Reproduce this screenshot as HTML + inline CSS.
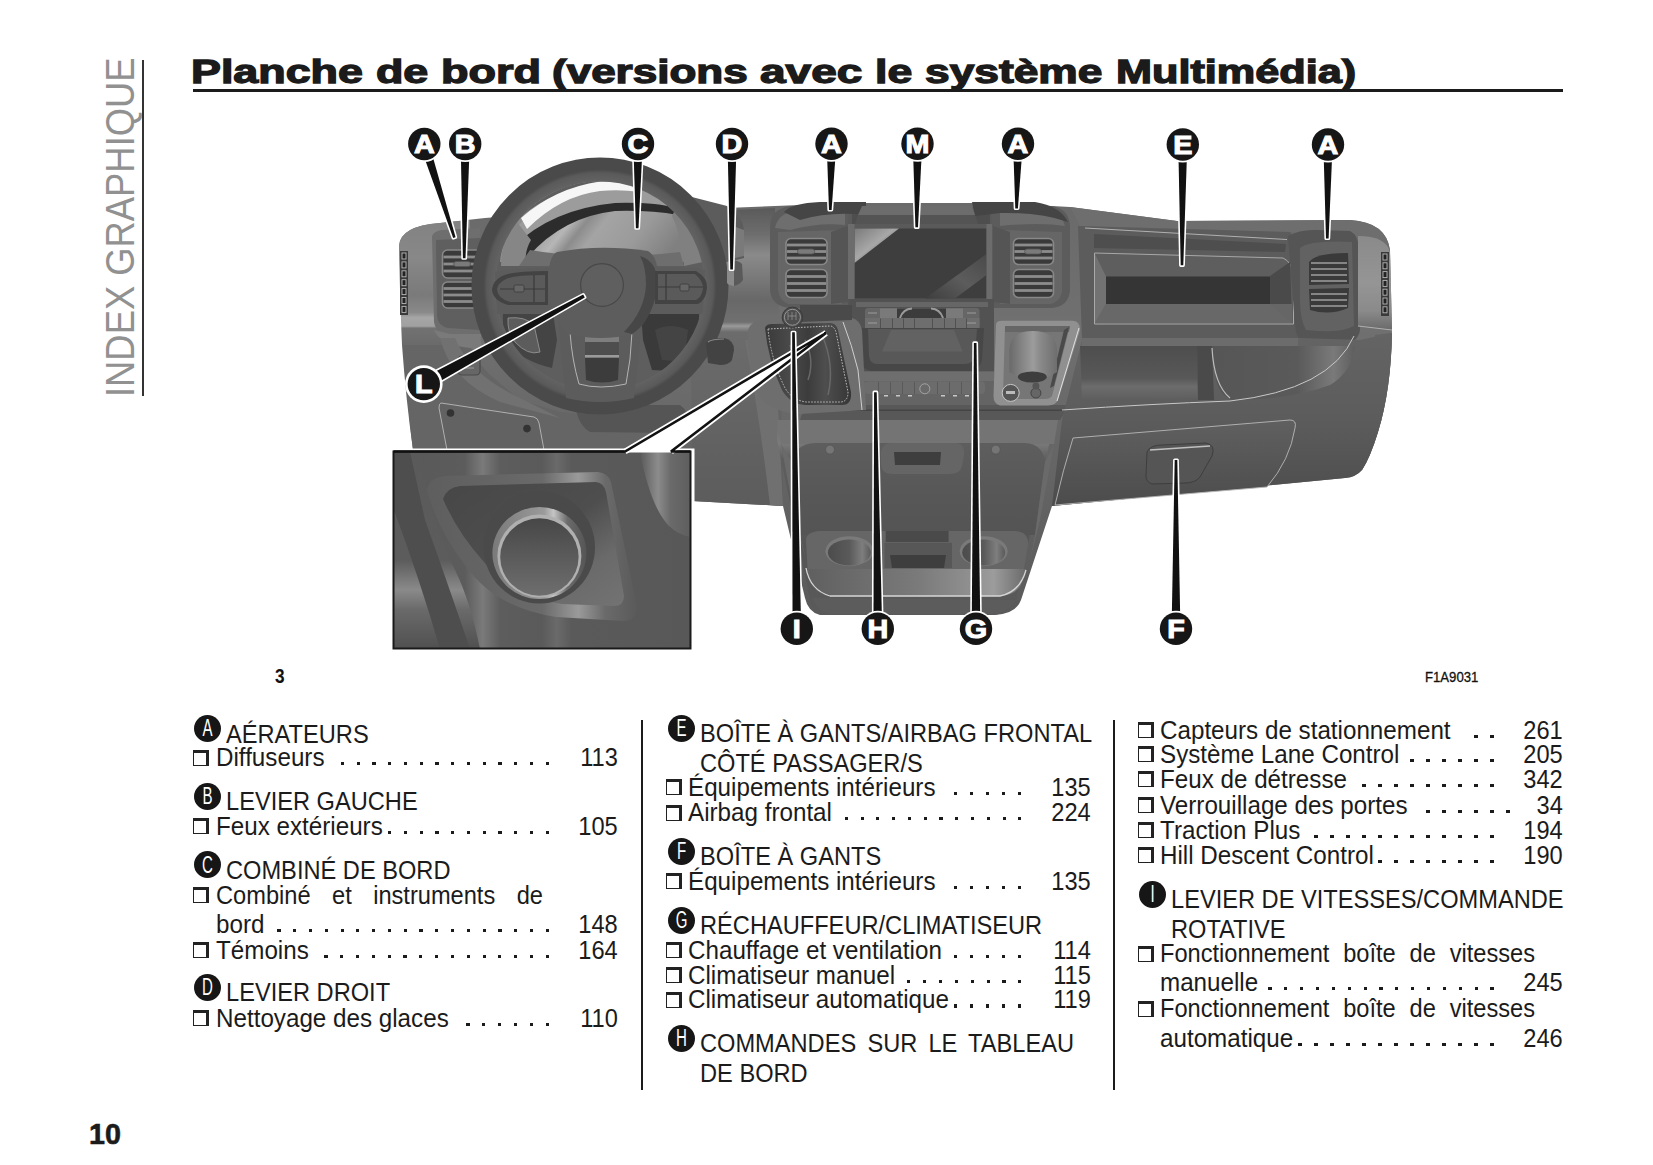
<!DOCTYPE html>
<html><head><meta charset="utf-8"><style>
html,body{margin:0;padding:0;background:#fff;}
body{width:1653px;height:1165px;position:relative;overflow:hidden;font-family:"Liberation Sans",sans-serif;color:#1b1b1b;}
.t{position:absolute;font-size:25px;line-height:25px;white-space:pre;transform:scaleX(0.945);transform-origin:0 0;}
.t.n{transform-origin:100% 0;}
.t.i{transform:scaleX(0.968);}
.t.j{text-align:justify;text-align-last:justify;white-space:normal;}
.d{position:absolute;width:3.2px;height:3.2px;background:#1b1b1b;display:block;}
.bx{position:absolute;width:12px;height:12px;border-left:1px solid #222;border-bottom:1px solid #222;border-top:3px solid #222;border-right:3px solid #222;display:block;}
.c{position:absolute;width:27px;height:27px;border-radius:50%;background:#161616;}
.c span{position:absolute;left:0;top:0.3px;width:27px;text-align:center;color:#fff;font-size:23.5px;line-height:27px;transform:scaleX(0.64);}
.title{position:absolute;left:191.3px;top:0;font-weight:bold;font-size:32.4px;white-space:pre;transform:scaleX(1.345);transform-origin:0 0;-webkit-text-stroke:1.3px #1b1b1b;}
.side{position:absolute;left:0;top:0;font-size:40.7px;line-height:40.7px;color:#919191;white-space:pre;transform-origin:0 0;}
</style></head><body>
<div class="side" style="transform:translate(99.6px,397px) rotate(-90deg) scaleX(0.894);">INDEX GRAPHIQUE</div>
<div style="position:absolute;left:142.4px;top:60px;width:1.2px;height:336px;background:#333"></div>
<div class="title" style="left:191.20px;top:55.6px;line-height:32.4px;transform:scaleX(1.3835)">Planche</div>
<div class="title" style="left:375.65px;top:55.6px;line-height:32.4px;transform:scaleX(1.3835)">de</div>
<div class="title" style="left:440.61px;top:55.6px;line-height:32.4px;transform:scaleX(1.3884)">bord</div>
<div class="title" style="left:552.25px;top:55.6px;line-height:32.4px;transform:scaleX(1.3590)">(versions</div>
<div class="title" style="left:760.23px;top:55.6px;line-height:32.4px;transform:scaleX(1.4201)">avec</div>
<div class="title" style="left:875.24px;top:55.6px;line-height:32.4px;transform:scaleX(1.3770)">le</div>
<div class="title" style="left:925.47px;top:55.6px;line-height:32.4px;transform:scaleX(1.3676)">système</div>
<div class="title" style="left:1115.50px;top:55.6px;line-height:32.4px;transform:scaleX(1.3343)">Multimédia)</div>
<div style="position:absolute;left:193px;top:89px;width:1370px;height:3px;background:#1b1b1b"></div>
<svg style="position:absolute;left:0;top:0" width="1653" height="1165" viewBox="0 0 1653 1165"><defs>
<linearGradient id="gDash" x1="0" y1="0" x2="0" y2="1">
 <stop offset="0" stop-color="#6a6a6a"/><stop offset="0.3" stop-color="#707070"/>
 <stop offset="0.6" stop-color="#666"/><stop offset="1" stop-color="#5a5a5a"/>
</linearGradient>
<linearGradient id="gLeftCap" x1="0" y1="0" x2="0" y2="1">
 <stop offset="0" stop-color="#828282"/><stop offset="0.3" stop-color="#888"/><stop offset="0.6" stop-color="#7a7a7a"/>
 <stop offset="0.74" stop-color="#8a8a8a"/><stop offset="0.78" stop-color="#a6a6a6"/><stop offset="0.85" stop-color="#a0a0a0"/>
 <stop offset="0.865" stop-color="#727272"/><stop offset="1" stop-color="#6a6a6a"/>
</linearGradient>
<linearGradient id="gRightCap" x1="0" y1="0" x2="0" y2="1">
 <stop offset="0" stop-color="#8a8a8a"/><stop offset="0.5" stop-color="#959595"/>
 <stop offset="0.8" stop-color="#8a8a8a"/><stop offset="1" stop-color="#6a6a6a"/>
</linearGradient>
<radialGradient id="gRing" cx="0.5" cy="0.5" r="0.5">
 <stop offset="0.80" stop-color="#6a6a6a"/><stop offset="0.9" stop-color="#626262"/><stop offset="0.97" stop-color="#5a5a5a"/><stop offset="1" stop-color="#4a4a4a"/>
</radialGradient>
<linearGradient id="gCluster" x1="0" y1="0" x2="1" y2="0.3">
 <stop offset="0" stop-color="#808080"/><stop offset="0.3" stop-color="#929292"/><stop offset="0.45" stop-color="#b6b6b6"/>
 <stop offset="0.52" stop-color="#8c8c8c"/><stop offset="0.6" stop-color="#a4a4a4"/><stop offset="0.8" stop-color="#9a9a9a"/><stop offset="1" stop-color="#808080"/>
</linearGradient>
<linearGradient id="gScreen" x1="0" y1="0" x2="1" y2="0.9">
 <stop offset="0" stop-color="#999"/><stop offset="0.08" stop-color="#6a6a6a"/><stop offset="0.16" stop-color="#404040"/>
 <stop offset="0.72" stop-color="#3c3c3c"/><stop offset="0.8" stop-color="#5a5a5a"/><stop offset="0.9" stop-color="#484848"/><stop offset="1" stop-color="#404040"/>
</linearGradient>
<linearGradient id="gGlove" x1="0" y1="0" x2="0" y2="1">
 <stop offset="0" stop-color="#606060"/><stop offset="1" stop-color="#4c4c4c"/>
</linearGradient>
<linearGradient id="gLowerR" x1="0" y1="0" x2="0" y2="1">
 <stop offset="0" stop-color="#646464"/><stop offset="0.5" stop-color="#5c5c5c"/><stop offset="1" stop-color="#4c4c4c"/>
</linearGradient>
<linearGradient id="gConsole" x1="0" y1="0" x2="0" y2="1">
 <stop offset="0" stop-color="#5a5a5a"/><stop offset="0.45" stop-color="#666"/><stop offset="1" stop-color="#5c5c5c"/>
</linearGradient>
<linearGradient id="gTray" x1="0" y1="0" x2="1" y2="0">
 <stop offset="0" stop-color="#6a6a6a"/><stop offset="0.5" stop-color="#7a7a7a"/><stop offset="0.8" stop-color="#8c8c8c"/><stop offset="1" stop-color="#6a6a6a"/>
</linearGradient>
<linearGradient id="gInset" x1="0" y1="0" x2="1" y2="0">
 <stop offset="0" stop-color="#585858"/><stop offset="0.24" stop-color="#5c5c5c"/><stop offset="0.3" stop-color="#7a7a7a"/>
 <stop offset="0.36" stop-color="#5d5d5d"/><stop offset="0.5" stop-color="#5a5a5a"/><stop offset="0.55" stop-color="#6a6a6a"/><stop offset="0.6" stop-color="#5a5a5a"/><stop offset="1" stop-color="#585858"/>
</linearGradient>
<linearGradient id="gKnob" x1="0" y1="0" x2="0" y2="1">
 <stop offset="0" stop-color="#474747"/><stop offset="1" stop-color="#6e6e6e"/>
</linearGradient>
<linearGradient id="gBezelTop" x1="0" y1="0" x2="1" y2="0">
 <stop offset="0" stop-color="#5e5e5e"/><stop offset="0.5" stop-color="#9a9a9a"/><stop offset="0.62" stop-color="#b8b8b8"/><stop offset="0.75" stop-color="#6a6a6a"/><stop offset="1" stop-color="#5a5a5a"/>
</linearGradient>
<linearGradient id="gRightArea" x1="0" y1="0" x2="0" y2="1">
 <stop offset="0" stop-color="#5a5a5a"/><stop offset="0.09" stop-color="#6e6e6e"/><stop offset="0.158" stop-color="#8a8a8a"/>
 <stop offset="0.309" stop-color="#686868"/><stop offset="0.383" stop-color="#707070"/><stop offset="0.396" stop-color="#9a9a9a"/>
 <stop offset="0.416" stop-color="#6c6c6c"/><stop offset="0.7" stop-color="#646464"/><stop offset="1" stop-color="#5c5c5c"/>
</linearGradient>
</defs>
<path d="M399,246 Q400,226 440,223 L485,218 L560,212 L700,209 L775,206 L850,203 L1000,203 L1070,207
 L1177,221 L1350,220 Q1386,222 1390,250 L1392,330 Q1391,390 1378,432 Q1370,458 1362,470 Q1356,477 1345,478 L1052,506
 L1021,600 Q1016,614 995,615 L820,615 Q808,612 805,598 L783,506 L692,501 L692,450 L413,450 Q404,380 399,246 Z" fill="url(#gDash)"/>
<path d="M399,246 Q400,226 440,223 L470,220 L470,345 L402,345 Q400,300 399,246 Z" fill="url(#gLeftCap)"/>
<path d="M432,236 Q434,231 442,230 L480,228 L482,338 L450,336 Q436,334 434,322 Z" fill="#6e6e6e"/>
<path d="M436,240 L480,238 L481,330 L448,328 Q438,326 437,316 Z" fill="#5f5f5f"/>
<rect x="442.5" y="250" width="40" height="28" rx="5" fill="#3a3a3a" stroke="#888" stroke-width="1.6"/>
<rect x="443.5" y="255.6" width="38" height="2.8" fill="#8c8c8c"/>
<rect x="443.5" y="262.6" width="38" height="2.8" fill="#8c8c8c"/>
<rect x="443.5" y="269.6" width="38" height="2.8" fill="#8c8c8c"/>
<rect x="453.7" y="261.5" width="16.8" height="5" rx="2.5" fill="#7a7a7a" stroke="#555" stroke-width="0.8"/>
<rect x="442.5" y="282" width="40" height="26" rx="5" fill="#3a3a3a" stroke="#888" stroke-width="1.6"/>
<rect x="443.5" y="287.1" width="38" height="2.8" fill="#8c8c8c"/>
<rect x="443.5" y="293.6" width="38" height="2.8" fill="#8c8c8c"/>
<rect x="443.5" y="300.1" width="38" height="2.8" fill="#8c8c8c"/>
<rect x="400" y="251" width="8" height="64" fill="#3a3a3a"/>
<rect x="402" y="253.0" width="4" height="6" fill="#222" stroke="#b8b8b8" stroke-width="0.9"/>
<rect x="402" y="261.9" width="4" height="6" fill="#222" stroke="#b8b8b8" stroke-width="0.9"/>
<rect x="402" y="270.8" width="4" height="6" fill="#222" stroke="#b8b8b8" stroke-width="0.9"/>
<rect x="402" y="279.7" width="4" height="6" fill="#222" stroke="#b8b8b8" stroke-width="0.9"/>
<rect x="402" y="288.6" width="4" height="6" fill="#222" stroke="#b8b8b8" stroke-width="0.9"/>
<rect x="402" y="297.5" width="4" height="6" fill="#222" stroke="#b8b8b8" stroke-width="0.9"/>
<rect x="402" y="306.4" width="4" height="6" fill="#222" stroke="#b8b8b8" stroke-width="0.9"/>
<path d="M402,345 L470,345 Q475,360 490,375 L520,400 L560,412 L640,420 L692,425 L692,450 L413,450 Q406,400 402,345 Z" fill="#656565"/>
<path d="M434,330 Q440,345 470,348 L485,352 Q478,340 482,334 L450,334 Z" fill="#7a7a7a"/>
<path d="M441,403 L534,417 Q538,418 539,423 L544,450 L447,450 L439,408 Q439,403 441,403 Z" fill="#626262" stroke="#b0b0b0" stroke-width="1"/>
<circle cx="450.5" cy="413" r="3.8" fill="#333"/><circle cx="527" cy="428.6" r="3.8" fill="#333"/>
<path d="M440,338 Q450,380 500,402 L560,418 L520,398 Q470,375 455,338 Z" fill="#717171"/>
<rect x="458" y="356" width="22" height="19" rx="4" fill="#666" stroke="#4a4a4a" stroke-width="1.2"/>
<path d="M464,362 L474,362 M464,368 L474,368" stroke="#aaa" stroke-width="0.8"/>
<path d="M690,212 L775,208 L780,330 L783,506 L692,501 L692,425 L690,330 Z" fill="url(#gRightArea)"/>
<path d="M745,340 Q760,338 775,345 L783,506 L770,505 Q760,420 745,340 Z" fill="#707070"/>
<path d="M688,196 L727,206 Q742,215 744,230 L744,258 L728,262 L705,262 Q702,225 688,205 Z" fill="#5c5c5c"/>
<path d="M733,226 L744,230 L744,256 L735,258 Z" fill="#7a7a7a"/>
<path d="M575,405 L680,405 Q690,412 688,425 L675,433 L590,432 Q578,425 575,405 Z" fill="#555"/>
<circle cx="600" cy="286" r="105" fill="#5e5e5e"/>
<path d="M500,262 Q505,200 600,184 Q690,186 705,262 Z" fill="url(#gCluster)"/>
<path d="M505,240 Q540,196 600,183 Q650,180 690,212 L676,208 Q650,202 615,203 Q550,210 513,247 Z" fill="#9c9c9c"/>
<path d="M521,218 Q555,188 600,181.5 Q625,180 640,186 L640,192 Q620,189 600,191 Q560,196 527,229 Z" fill="#f6f6f6"/>
<path d="M513,247 Q552,209 615,203 Q655,202 676,208 L678,215 Q650,210 615,211 Q562,217 527,258 Z" fill="#2c2c2c"/>
<path d="M501,266 Q501,240 517,222 L531,240 Q524,252 526,266 Z" fill="#868686"/>
<path d="M676,208 Q698,222 703,262 L684,266 Q682,236 672,216 Z" fill="#808080"/>
<path d="M530,250 Q600,262 680,252 L684,266 L519,266 Z" fill="#6e6e6e"/>
<path d="M503,313 Q528,309 553,313 L557,340 L552,368 Q525,362 508,345 Q502,330 503,313 Z" fill="#444"/>
<path d="M641,312 Q672,308 699,314 Q700,345 690,372 L652,370 L643,340 Z" fill="#3a3a3a"/>
<path d="M508,318 Q525,316 534,325 L540,352 Q528,356 515,342 Q507,332 508,318 Z" fill="#5c5c5c" stroke="#9a9a9a" stroke-width="0.8"/>
<path d="M655,330 Q670,322 688,330 L684,362 L662,360 Z" fill="#444"/>
<circle cx="600" cy="286" r="116.5" fill="none" stroke="url(#gRing)" stroke-width="24"/>
<path d="M495,272 Q520,268 556,268 L560,314 Q525,314 497,314 Z" fill="#5c5c5c"/>
<path d="M646,268 Q690,266 705,270 L703,314 Q680,314 644,314 Z" fill="#5c5c5c"/>
<path d="M558,322 L642,322 L634,398 Q600,406 566,398 Z" fill="#5c5c5c"/>
<path d="M570,332 Q572,360 579,384 Q600,390 626,384 Q631,360 632,332" stroke="#b4b4b4" stroke-width="1" fill="none"/>
<path d="M585,336 L619,336 L619,342 L585,342 Z" fill="#7e7e7e"/>
<path d="M585,342 L619,342 L619,356 L585,356 Z" fill="#4e4e4e"/>
<rect x="585" y="355" width="34" height="2.5" fill="#9a9a9a"/>
<path d="M585,358 L619,358 L618,380 Q602,385 586,380 Z" fill="#3c3c3c"/>
<path d="M557,252 Q600,244 648,251 Q660,258 657,285 Q652,318 634,334 Q600,342 568,334 Q550,318 548,285 Q548,256 557,252 Z" fill="#5d5d5d"/>
<path d="M640,256 Q660,262 657,290 Q651,322 632,334 L624,332 Q645,310 646,285 Q646,266 640,256 Z" fill="#474747"/>
<circle cx="602" cy="285" r="21.4" fill="#5f5f5f" stroke="#484848" stroke-width="1.2"/>
<path d="M502,276 Q512,271 548,271 L548,305 L508,305 Q492,300 492,289 Q493,281 502,276 Z" fill="#434343"/>
<path d="M506,279 Q514,275 545,275 L545,302 L510,302 Q497,298 497,289 Q498,283 506,279 Z" fill="#5a5a5a"/>
<path d="M500,289 L545,289 M534,275 L534,302" stroke="#3a3a3a" stroke-width="1.2"/>
<rect x="514" y="285" width="10" height="7" rx="1.5" fill="#666" stroke="#3a3a3a" stroke-width="0.8"/>
<path d="M655,271 L696,271 Q708,278 707,288 Q706,300 698,304 L655,304 Z" fill="#434343"/>
<path d="M658,274 L695,274 Q703,281 703,288 Q702,297 696,300 L658,300 Z" fill="#5a5a5a"/>
<path d="M658,287 L703,287 M666,274 L666,300" stroke="#3a3a3a" stroke-width="1.2"/>
<rect x="680" y="284" width="9" height="7" rx="1.5" fill="#666" stroke="#3a3a3a" stroke-width="0.8"/>
<path d="M727,262 Q736,258 742,264 L743,280 Q737,288 729,285 Z" fill="#5a5a5a"/>
<path d="M727,262 Q731,260 734,261 L734,286 Q729,286 727,283 Z" fill="#8a8a8a"/>
<path d="M706,343 Q710,338 724,338 Q734,340 734,350 L732,360 Q729,365 720,365 L708,363 Z" fill="#434343"/>
<path d="M708,342 Q712,339 724,339" stroke="#888" stroke-width="1.2" fill="none"/>
<path d="M770,226 Q771,209 790,206 L852,205 L852,308 L790,308 Q771,306 770,290 Z" fill="#5c5c5c"/>
<path d="M775,228 Q778,214 792,212 L845,212 L845,225 Q820,222 790,230 Z" fill="#6e6e6e"/>
<path d="M778,232 L842,230 L842,304 L788,304 Q779,300 778,290 Z" fill="#666"/>
<rect x="786" y="238.5" width="41" height="26" rx="5" fill="#3a3a3a" stroke="#888" stroke-width="1.6"/>
<rect x="787" y="243.6" width="39" height="2.8" fill="#8c8c8c"/>
<rect x="787" y="250.1" width="39" height="2.8" fill="#8c8c8c"/>
<rect x="787" y="256.6" width="39" height="2.8" fill="#8c8c8c"/>
<rect x="797.5" y="249.0" width="17.2" height="5" rx="2.5" fill="#7a7a7a" stroke="#555" stroke-width="0.8"/>
<rect x="786" y="269.5" width="41" height="28" rx="5" fill="#3a3a3a" stroke="#888" stroke-width="1.6"/>
<rect x="787" y="275.1" width="39" height="2.8" fill="#8c8c8c"/>
<rect x="787" y="282.1" width="39" height="2.8" fill="#8c8c8c"/>
<rect x="787" y="289.1" width="39" height="2.8" fill="#8c8c8c"/>
<path d="M848,218 Q850,207 862,207 L983,207 Q994,209 994,220 L994,304 L848,304 Z" fill="#5a5a5a"/>
<rect x="852" y="214" width="138" height="10" fill="#4e4e4e"/>
<rect x="854.5" y="228.5" width="132" height="70" fill="#3e3e3e"/>
<linearGradient id="gHL" x1="0" y1="0" x2="1" y2="1"><stop offset="0" stop-color="#7a7a7a"/><stop offset="0.45" stop-color="#a8a8a8"/><stop offset="0.75" stop-color="#6a6a6a"/><stop offset="1" stop-color="#3e3e3e"/></linearGradient>
<path d="M854.5,228.5 L899,228.5 L854.5,263 Z" fill="url(#gHL)"/>
<linearGradient id="gHL2" x1="0" y1="1" x2="1" y2="0"><stop offset="0" stop-color="#3e3e3e"/><stop offset="0.5" stop-color="#5c5c5c"/><stop offset="1" stop-color="#4a4a4a"/></linearGradient>
<path d="M925,298.5 L986.5,254 L986.5,275 L955,298.5 Z" fill="url(#gHL2)"/>
<path d="M831,232 L848,226 L848,302 L831,304 Z" fill="#555"/>
<rect x="848" y="224" width="6.5" height="78" fill="#6c6c6c"/>
<rect x="986.5" y="224" width="6.5" height="78" fill="#6c6c6c"/>
<path d="M992,205 L1052,206 Q1069,209 1070,226 L1070,290 Q1069,306 1052,308 L992,308 Z" fill="#5c5c5c"/>
<path d="M1000,212 L1050,212 Q1062,214 1065,226 Q1040,222 1000,226 Z" fill="#6e6e6e"/>
<path d="M1000,230 L1062,232 L1062,292 Q1060,302 1050,304 L1000,304 Z" fill="#666"/>
<path d="M993,226 L1010,232 L1010,304 L993,302 Z" fill="#555"/>
<rect x="1013.5" y="238.5" width="40" height="26" rx="5" fill="#3a3a3a" stroke="#888" stroke-width="1.6"/>
<rect x="1014.5" y="243.6" width="38" height="2.8" fill="#8c8c8c"/>
<rect x="1014.5" y="250.1" width="38" height="2.8" fill="#8c8c8c"/>
<rect x="1014.5" y="256.6" width="38" height="2.8" fill="#8c8c8c"/>
<rect x="1024.7" y="249.0" width="16.8" height="5" rx="2.5" fill="#7a7a7a" stroke="#555" stroke-width="0.8"/>
<rect x="1013.5" y="269.5" width="40" height="28" rx="5" fill="#3a3a3a" stroke="#888" stroke-width="1.6"/>
<rect x="1014.5" y="275.1" width="38" height="2.8" fill="#8c8c8c"/>
<rect x="1014.5" y="282.1" width="38" height="2.8" fill="#8c8c8c"/>
<rect x="1014.5" y="289.1" width="38" height="2.8" fill="#8c8c8c"/>
<path d="M784,212 Q792,203 820,202 L866,202 L866,215 Q830,211 800,220 Z" fill="#454545"/>
<path d="M972,202 L1035,202 Q1060,206 1068,222 Q1040,212 1000,213 L975,216 Z" fill="#454545"/>
<path d="M862,206 L972,206 L975,215 L858,215 Z" fill="#6c6c6c"/>
<path d="M858,215 L975,215 L978,224 L855,224 Z" fill="#545454"/>
<path d="M848,299 L994,299 L994,372 Q990,380 980,380 L866,380 Q858,378 855,370 Z" fill="#525252"/>
<rect x="856" y="302" width="132" height="5" fill="#666"/>
<rect x="865" y="307.9" width="114.5" height="20.5" rx="3" fill="#666"/>
<rect x="880" y="308.5" width="17" height="10" fill="#7a7a7a"/>
<rect x="946" y="308.5" width="17" height="10" fill="#7a7a7a"/>
<rect x="897" y="308.5" width="49" height="10" fill="#3c3c3c"/>
<path d="M900,318 Q903,309 912,308.5 M943,318 Q940,309 931,308.5" stroke="#9a9a9a" stroke-width="2" fill="none"/>
<rect x="865" y="318" width="114.5" height="10.4" fill="#6e6e6e"/>
<rect x="880" y="318.5" width="0.8" height="9.5" fill="#4a4a4a"/>
<rect x="892" y="318.5" width="0.8" height="9.5" fill="#4a4a4a"/>
<rect x="903" y="318.5" width="0.8" height="9.5" fill="#4a4a4a"/>
<rect x="914" y="318.5" width="0.8" height="9.5" fill="#4a4a4a"/>
<rect x="932" y="318.5" width="0.8" height="9.5" fill="#4a4a4a"/>
<rect x="944" y="318.5" width="0.8" height="9.5" fill="#4a4a4a"/>
<rect x="955" y="318.5" width="0.8" height="9.5" fill="#4a4a4a"/>
<rect x="966" y="318.5" width="0.8" height="9.5" fill="#4a4a4a"/>
<path d="M868,313 L877,313 M868,323 L877,323 M967,313 L976,313 M967,323 L976,323" stroke="#aaa" stroke-width="0.8"/>
<path d="M860,328 L984,328 L982,360 Q980,370 970,371 L872,371 Q862,370 861,360 Z" fill="#474747"/>
<path d="M868,329 L977,329 L975,356 Q973,364 965,364 L877,364 Q870,364 869,356 Z" fill="#585858"/>
<path d="M891,330 L954,330 L962.7,351.4 L882,351.4 Z" fill="#626262"/>
<path d="M855,371 L994,371 L998,410 L858,410 Z" fill="#646464"/>
<rect x="856" y="372" width="138" height="9" fill="#6e6e6e"/>
<rect x="864.5" y="381.5" width="120.5" height="12.5" rx="4" fill="#6c6c6c"/>
<rect x="878" y="382" width="0.8" height="12" fill="#555"/>
<rect x="890" y="382" width="0.8" height="12" fill="#555"/>
<rect x="902" y="382" width="0.8" height="12" fill="#555"/>
<rect x="914" y="382" width="0.8" height="12" fill="#555"/>
<rect x="937" y="382" width="0.8" height="12" fill="#555"/>
<rect x="949" y="382" width="0.8" height="12" fill="#555"/>
<rect x="961" y="382" width="0.8" height="12" fill="#555"/>
<rect x="973" y="382" width="0.8" height="12" fill="#555"/>
<circle cx="924.8" cy="388.8" r="5" fill="#6a6a6a" stroke="#b0b0b0" stroke-width="0.8"/>
<rect x="884" y="395" width="4" height="1.5" fill="#c8c8c8"/>
<rect x="896" y="395" width="4" height="1.5" fill="#c8c8c8"/>
<rect x="908" y="395" width="4" height="1.5" fill="#c8c8c8"/>
<rect x="941" y="395" width="4" height="1.5" fill="#c8c8c8"/>
<rect x="953" y="395" width="4" height="1.5" fill="#c8c8c8"/>
<rect x="965" y="395" width="4" height="1.5" fill="#c8c8c8"/>
<path d="M805,405 L1070,405 L1060,420 L800,420 Z" fill="#585858"/>
<rect x="800" y="409.5" width="265" height="1.5" fill="#444"/>
<path d="M748,330 Q752,318 770,318 L852,318 Q860,320 862,330 L866,410 L800,414 Q770,412 758,395 Q748,370 748,330 Z" fill="#6e6e6e"/>
<path d="M800,305 L852,305 L852,320 L800,322 Z" fill="#4a4a4a"/>
<path d="M843,322 Q852,345 858,370 L862,410" stroke="#d0d0d0" stroke-width="1" fill="none"/>
<linearGradient id="gBoot" x1="0" y1="0" x2="1" y2="0"><stop offset="0" stop-color="#3a3a3a"/><stop offset="0.3" stop-color="#4a4a4a"/><stop offset="0.5" stop-color="#3c3c3c"/><stop offset="0.7" stop-color="#4e4e4e"/><stop offset="1" stop-color="#363636"/></linearGradient>
<path d="M765,328 Q766,324 772,324 L830,323 Q836,323 838,330 L851,392 Q852,405 842,405 L805,405 Q790,404 782,390 Q768,360 765,328 Z" fill="url(#gBoot)"/>
<path d="M768,329 L830,326 Q834,326 836,332 L848,392 Q848,402 840,402 L806,402 Q792,400 785,388 Q771,360 768,329 Z" fill="none" stroke="#c8c8c8" stroke-width="0.9" stroke-dasharray="1.6,1.4"/>
<path d="M805,340 Q815,360 808,380 M822,335 Q835,365 828,395 M790,345 Q800,370 795,395" stroke="#686868" stroke-width="1.5" fill="none"/>
<circle cx="792.4" cy="317.3" r="10.2" fill="#4e4e4e" stroke="#3a3a3a" stroke-width="1"/>
<circle cx="792.4" cy="317.3" r="8" fill="none" stroke="#aaa" stroke-width="0.8"/>
<path d="M788,312 L788,320 M792,312 L792,320 M796,312 L796,320 M788,316 L796,316" stroke="#999" stroke-width="0.7"/>
<path d="M996,325 Q996,320.8 1002,320.8 L1073,320.8 Q1080,321 1080,330 L1058,400 Q1056,405 1048,405.5 L1000,405.5 Q993.5,404 993.5,396 Z" fill="#909090"/>
<path d="M1079,328 L1057,401" stroke="#e0e0e0" stroke-width="1" fill="none"/>
<path d="M1005,326 L1070,326 L1052,396 Q1050,399 1045,399 L1006,399 Q1003,398 1003,394 Z" fill="#767676"/>
<path d="M1005,326 L1070,326 L1069,332 L1005,332 Z" fill="#666"/>
<path d="M1069,327 L1064,330 L1050,388 L1054,386 Z" fill="#4a4a4a"/>
<linearGradient id="gCyl" x1="0" y1="0" x2="1" y2="0"><stop offset="0" stop-color="#6a6a6a"/><stop offset="0.5" stop-color="#9c9c9c"/><stop offset="0.65" stop-color="#8a8a8a"/><stop offset="1" stop-color="#6e6e6e"/></linearGradient>
<path d="M1009.3,350 Q1010,331 1033,331 Q1056,331 1057,350 L1057,372 Q1045,380 1033,380 Q1020,380 1009.3,372 Z" fill="url(#gCyl)"/>
<ellipse cx="1032.3" cy="377" rx="14.5" ry="5.5" fill="#3e3e3e"/>
<circle cx="1010.7" cy="392.9" r="8.5" fill="#555" stroke="#d0d0d0" stroke-width="0.9"/>
<rect x="1006" y="391" width="9" height="3" fill="#bbb"/>
<circle cx="1035.9" cy="393" r="5" fill="#666" stroke="#444" stroke-width="1"/>
<circle cx="1035.9" cy="386" r="3.5" fill="#555"/>
<path d="M1070,207 L1177,221 L1350,220 Q1386,222 1390,250 L1360,240 L1290,232 L1080,226 Z" fill="#6e6e6e"/>
<path d="M1078,226 L1290,232 L1298,244 L1298,338 L1082,340 Z" fill="#5c5c5c"/>
<path d="M1085,228 L1287,239.5" stroke="#b0b0b0" stroke-width="1" fill="none"/>
<path d="M1094,234 L1286,244 L1285,252 L1094,248 Z" fill="#4e4e4e"/>
<path d="M1094.5,253 L1283,258 Q1292,262 1293.5,275 L1293.5,324 L1094.5,324 Z" fill="#5e5e5e" stroke="#a8a8a8" stroke-width="1"/>
<rect x="1106" y="276.5" width="164" height="27.5" fill="#353535"/>
<path d="M1270,276 L1290,262 L1292,322 L1270,304 Z" fill="#4a4a4a"/>
<path d="M1095,304 L1292,304 L1292,323 L1095,323 Z" fill="#666"/>
<path d="M1095,254 L1106,276.5 L1106,304 L1095,323 Z" fill="#727272"/>
<path d="M1106,304 L1270,304 L1292,323 L1095,323 Z" fill="#686868"/>
<path d="M1288,236 Q1300,229 1318,230 L1350,231 Q1360,236 1358,252 L1360,330 Q1358,342 1345,344 L1305,344 Q1296,340 1295,325 Z" fill="#555"/>
<path d="M1300,248 Q1310,240 1352,242 L1354,326 Q1340,334 1306,330 Q1300,320 1300,300 Z" fill="#626262"/>
<path d="M1309,262 Q1315,253 1348,253 L1349,284 L1309,285 Z" fill="#3a3a3a"/>
<path d="M1309,289 L1349,288 L1348,308 Q1330,316 1310,310 Z" fill="#3a3a3a"/>
<rect x="1311" y="262" width="36" height="2" fill="#858585"/>
<rect x="1311" y="268" width="36" height="2" fill="#858585"/>
<rect x="1311" y="274" width="36" height="2" fill="#858585"/>
<rect x="1311" y="280" width="36" height="2" fill="#858585"/>
<rect x="1311" y="293" width="36" height="2" fill="#858585"/>
<rect x="1311" y="299" width="36" height="2" fill="#858585"/>
<rect x="1311" y="305" width="36" height="2" fill="#858585"/>
<path d="M1358,236 Q1386,236 1390,252 L1392,330 L1358,326 Z" fill="url(#gRightCap)"/>
<path d="M1358,326 L1392,330" stroke="#b0b0b0" stroke-width="1" fill="none"/>
<path d="M1375,335 L1392,333 Q1391,390 1378,432 Q1370,458 1362,470 L1358,470 Q1372,440 1378,400 Z" fill="#646464"/>
<rect x="1381" y="252" width="8" height="64" fill="#3a3a3a"/>
<rect x="1383" y="254.0" width="4" height="6" fill="#222" stroke="#b8b8b8" stroke-width="0.9"/>
<rect x="1383" y="262.8" width="4" height="6" fill="#222" stroke="#b8b8b8" stroke-width="0.9"/>
<rect x="1383" y="271.6" width="4" height="6" fill="#222" stroke="#b8b8b8" stroke-width="0.9"/>
<rect x="1383" y="280.4" width="4" height="6" fill="#222" stroke="#b8b8b8" stroke-width="0.9"/>
<rect x="1383" y="289.2" width="4" height="6" fill="#222" stroke="#b8b8b8" stroke-width="0.9"/>
<rect x="1383" y="298.0" width="4" height="6" fill="#222" stroke="#b8b8b8" stroke-width="0.9"/>
<rect x="1383" y="306.8" width="4" height="6" fill="#222" stroke="#b8b8b8" stroke-width="0.9"/>
<path d="M1082,340 L1300,338 L1360,340 L1392,333 Q1391,390 1378,432 Q1370,458 1362,470 Q1356,477 1345,478 L1052,506 L1062,420 Z" fill="url(#gLowerR)"/>
<path d="M1082,338 L1298,338 L1298,346 L1082,346 Z" fill="#6c6c6c"/>
<linearGradient id="gComp" x1="0" y1="0" x2="0" y2="1"><stop offset="0" stop-color="#4e4e4e"/><stop offset="0.6" stop-color="#585858"/><stop offset="0.75" stop-color="#6c6c6c"/><stop offset="1" stop-color="#5e5e5e"/></linearGradient>
<path d="M1080,346 L1197,346 L1198,398 L1082,400 Z" fill="url(#gComp)"/>
<path d="M1197,346 L1212,346 L1214,400 L1198,400 Z" fill="#4a4a4a"/>
<linearGradient id="gTub" x1="0" y1="0" x2="1" y2="0"><stop offset="0" stop-color="#565656"/><stop offset="0.6" stop-color="#5a5a5a"/><stop offset="0.85" stop-color="#7a7a7a"/><stop offset="1" stop-color="#5e5e5e"/></linearGradient>
<path d="M1212,346 L1355,346 Q1352,372 1330,385 Q1290,400 1232,400 Q1220,396 1216,380 Z" fill="url(#gTub)"/>
<path d="M1212,348 Q1214,385 1230,398" stroke="#bdbdbd" stroke-width="1.2" fill="none"/>
<path d="M1062,410 Q1150,404 1230,401 Q1330,390 1354,336" stroke="#c8c8c8" stroke-width="1" fill="none"/>
<path d="M1073,438 L1290,420 Q1297,420 1295,428 Q1290,460 1267,487 L1055,505 Q1063,470 1073,438 Z" fill="url(#gGlove)" stroke="#b8b8b8" stroke-width="0.9"/>
<path d="M1147,452 Q1150,445 1162,445 L1206,443 Q1216,445 1212,456 L1200,477 Q1195,483 1185,483 L1152,484 Q1146,482 1146,476 Z" fill="#555" stroke="#3e3e3e" stroke-width="1"/>
<path d="M1150,450 L1210,446" stroke="#c0c0c0" stroke-width="1.5"/>
<linearGradient id="gCons2" x1="0" y1="0" x2="0" y2="1"><stop offset="0" stop-color="#6e6e6e"/><stop offset="0.12" stop-color="#7a7a7a"/><stop offset="0.2" stop-color="#5e5e5e"/><stop offset="0.65" stop-color="#555"/><stop offset="1" stop-color="#5a5a5a"/></linearGradient>
<path d="M777,420 L1058,420 L1050,440 L1016,601 Q1010,614 992,615 L826,615 Q812,612 810,600 L777,440 Z" fill="url(#gCons2)"/>
<path d="M777,420 L1058,420 L1054,444 L781,444 Z" fill="#747474"/>
<linearGradient id="gFace" x1="0" y1="0" x2="0" y2="1"><stop offset="0" stop-color="#5e5e5e"/><stop offset="0.5" stop-color="#585858"/><stop offset="1" stop-color="#545454"/></linearGradient>
<path d="M792,462 Q795,444 815,443 L1025,443 Q1043,444 1045,462 L1035,535 L800,535 Z" fill="url(#gFace)"/>
<path d="M781,444 L792,462 L800,535 L806,560 L795,520 Z" fill="#6a6a6a"/>
<path d="M1054,444 L1045,462 L1035,535 L1030,560 L1040,520 Z" fill="#6a6a6a"/>
<path d="M881,452 Q882,443 892,443 L955,443 Q965,443 964,455 L962,466 Q960,474 950,474 L892,474 Q882,474 881,465 Z" fill="#656565"/>
<path d="M894,452 L941,452 L940,465 L895,465 Z" fill="#3e3e3e"/>
<circle cx="830" cy="449.6" r="4.5" fill="#757575" stroke="#555" stroke-width="0.8"/><circle cx="995.8" cy="449.6" r="4.5" fill="#757575" stroke="#555" stroke-width="0.8"/>
<path d="M806,540 Q806,532 820,531 L1015,531 Q1029,532 1028,545 L1022,580 Q1016,592 1000,594 L830,594 Q813,592 808,578 Z" fill="#666"/>
<linearGradient id="gCupL" x1="0" y1="0" x2="1" y2="0"><stop offset="0" stop-color="#4c4c4c"/><stop offset="0.5" stop-color="#5a5a5a"/><stop offset="0.8" stop-color="#7e7e7e"/><stop offset="1" stop-color="#5a5a5a"/></linearGradient>
<ellipse cx="849.4" cy="551.2" rx="24" ry="15" fill="#7a7a7a"/>
<ellipse cx="849.4" cy="552.5" rx="21.5" ry="13" fill="url(#gCupL)"/>
<ellipse cx="983.7" cy="551.2" rx="24" ry="15" fill="#7a7a7a"/>
<ellipse cx="983.7" cy="552.5" rx="21.5" ry="13" fill="url(#gCupL)"/>
<path d="M885.7,531 L948.6,531 L948.6,542 L885.7,542 Z" fill="#4a4a4a"/>
<path d="M884.5,542.8 L952,542.8 L952,568 L884.5,568 Z" fill="#575757"/>
<path d="M890,555 L946,555 L944,568 L892,568 Z" fill="#3e3e3e"/>
<linearGradient id="gTrayF" x1="0" y1="0" x2="1" y2="0"><stop offset="0" stop-color="#606060"/><stop offset="0.5" stop-color="#7a7a7a"/><stop offset="0.75" stop-color="#909090"/><stop offset="0.85" stop-color="#9c9c9c"/><stop offset="1" stop-color="#6a6a6a"/></linearGradient>
<path d="M809,569 L1026,569 L1021,585 Q1015,595 1000,596 L830,596 Q815,594 811,582 Z" fill="url(#gTrayF)"/>
<path d="M806,568 Q810,590 830,596 L1000,596 Q1020,592 1026,570" stroke="#d6d6d6" stroke-width="1.3" fill="none"/>
<path d="M812,598 Q818,612 830,614 L992,614 Q1010,612 1016,600 Z" fill="#5c5c5c"/>
<rect x="390.5" y="448.5" width="304" height="203" fill="#fff"/>
<rect x="393.5" y="451.5" width="297" height="197" fill="url(#gInset)"/>
<linearGradient id="gInL" x1="0" y1="0" x2="0" y2="1"><stop offset="0" stop-color="#5a5a5a"/><stop offset="0.55" stop-color="#5c5c5c"/><stop offset="0.7" stop-color="#8a8a8a"/><stop offset="0.8" stop-color="#6a6a6a"/><stop offset="1" stop-color="#505050"/></linearGradient>
<path d="M394,452 L420,452 Q430,520 455,570 Q470,600 480,649 L394,649 Z" fill="url(#gInL)"/>
<path d="M394,510 Q420,580 440,649 L470,649 Q450,590 425,520 L410,452 L394,452 Z" fill="#4e4e4e"/>
<linearGradient id="gInR" x1="0" y1="0" x2="1" y2="0"><stop offset="0" stop-color="#5a5a5a"/><stop offset="0.35" stop-color="#8c8c8c"/><stop offset="0.6" stop-color="#6a6a6a"/><stop offset="1" stop-color="#5e5e5e"/></linearGradient>
<path d="M640,452 Q650,505 668,525 Q678,535 691,537 L691,452 Z" fill="url(#gInR)"/>
<linearGradient id="gBez" x1="0" y1="0" x2="1" y2="0"><stop offset="0" stop-color="#5e5e5e"/><stop offset="0.55" stop-color="#6a6a6a"/><stop offset="0.72" stop-color="#9a9a9a"/><stop offset="0.85" stop-color="#6a6a6a"/><stop offset="1" stop-color="#5a5a5a"/></linearGradient>
<path d="M427,491 Q428,478 445,476 L598,472 Q608,473 611,482 L637,606 Q637,620 624,621 L556,617 Q495,608 465,565 Q438,530 427,491 Z" fill="url(#gBez)"/>
<linearGradient id="gRec" x1="0" y1="0" x2="1" y2="1"><stop offset="0" stop-color="#474747"/><stop offset="0.5" stop-color="#4e4e4e"/><stop offset="0.75" stop-color="#6a6a6a"/><stop offset="1" stop-color="#737373"/></linearGradient>
<path d="M443,499 Q446,488 460,486 L596,482 Q604,483 606,492 L624,596 Q624,606 614,606 L562,604 Q510,597 484,562 Q457,532 443,499 Z" fill="url(#gRec)"/>
<ellipse cx="539.4" cy="547.5" rx="55.6" ry="56" fill="#4a4a4a"/>
<linearGradient id="gRing2" x1="0" y1="0" x2="1" y2="0"><stop offset="0" stop-color="#7a7a7a"/><stop offset="0.55" stop-color="#9a9a9a"/><stop offset="0.65" stop-color="#c4c4c4"/><stop offset="0.8" stop-color="#6a6a6a"/><stop offset="1" stop-color="#555"/></linearGradient>
<ellipse cx="539.4" cy="553" rx="47" ry="46" fill="url(#gRing2)"/>
<ellipse cx="539.4" cy="556" rx="42" ry="41.5" fill="#b0b0b0"/>
<ellipse cx="539.4" cy="557" rx="39.2" ry="38.7" fill="url(#gKnob)"/>
<path d="M625,451.5 L393.5,451.5 L393.5,648.5 L690.5,648.5 L690.5,451.5 L671,451.5" fill="none" stroke="#1a1a1a" stroke-width="2"/>
<path d="M625,452.5 L826,333 L671,452.5 Z" fill="#fff"/>
<path d="M625,451.5 L826,333 M671,451.5 L826,333" stroke="#fff" stroke-width="6" fill="none"/>
<path d="M393.5,451.5 L625,451.5 L826,333 L671,451.5 L690.5,451.5" stroke="#111" stroke-width="2.6" stroke-linejoin="miter" stroke-miterlimit="3" fill="none"/>
<path d="M424.0,156.7 L453.2,238.0 L455.6,237.2 L432.0,154.1 Z" fill="#111" stroke="#fff" stroke-width="3.2" stroke-linejoin="round"/>
<path d="M424.0,156.7 L453.2,238.0 L455.6,237.2 L432.0,154.1 Z" fill="#111"/>
<circle cx="424.3" cy="144.0" r="18" fill="#fff"/>
<circle cx="424.3" cy="144.0" r="16.2" fill="#161616"/>
<text x="424.3" y="153.3" text-anchor="middle" font-family="Liberation Sans" font-weight="bold" font-size="25" fill="#fff" stroke="#fff" stroke-width="1" transform="translate(424.3,0) scale(1.15,1) translate(-424.3,0)">A</text>
<path d="M460.9,156.0 L462.9,258.2 L465.5,258.2 L469.3,156.0 Z" fill="#111" stroke="#fff" stroke-width="3.2" stroke-linejoin="round"/>
<path d="M460.9,156.0 L462.9,258.2 L465.5,258.2 L469.3,156.0 Z" fill="#111"/>
<circle cx="465.2" cy="144.0" r="18" fill="#fff"/>
<circle cx="465.2" cy="144.0" r="16.2" fill="#161616"/>
<text x="465.2" y="153.3" text-anchor="middle" font-family="Liberation Sans" font-weight="bold" font-size="25" fill="#fff" stroke="#fff" stroke-width="1" transform="translate(465.2,0) scale(1.15,1) translate(-465.2,0)">B</text>
<path d="M633.7,156.0 L635.9,228.2 L638.5,228.2 L642.1,156.0 Z" fill="#111" stroke="#fff" stroke-width="3.2" stroke-linejoin="round"/>
<path d="M633.7,156.0 L635.9,228.2 L638.5,228.2 L642.1,156.0 Z" fill="#111"/>
<circle cx="638" cy="144.0" r="18" fill="#fff"/>
<circle cx="638" cy="144.0" r="16.2" fill="#161616"/>
<text x="638" y="153.3" text-anchor="middle" font-family="Liberation Sans" font-weight="bold" font-size="25" fill="#fff" stroke="#fff" stroke-width="1" transform="translate(638,0) scale(1.15,1) translate(-638,0)">C</text>
<path d="M727.8,156.0 L730.3,269.4 L732.9,269.4 L736.2,156.0 Z" fill="#111" stroke="#fff" stroke-width="3.2" stroke-linejoin="round"/>
<path d="M727.8,156.0 L730.3,269.4 L732.9,269.4 L736.2,156.0 Z" fill="#111"/>
<circle cx="732" cy="144.0" r="18" fill="#fff"/>
<circle cx="732" cy="144.0" r="16.2" fill="#161616"/>
<text x="732" y="153.3" text-anchor="middle" font-family="Liberation Sans" font-weight="bold" font-size="25" fill="#fff" stroke="#fff" stroke-width="1" transform="translate(732,0) scale(1.15,1) translate(-732,0)">D</text>
<path d="M827.1,155.7 L829.0,210.0 L831.6,210.0 L835.5,155.9 Z" fill="#111" stroke="#fff" stroke-width="3.2" stroke-linejoin="round"/>
<path d="M827.1,155.7 L829.0,210.0 L831.6,210.0 L835.5,155.9 Z" fill="#111"/>
<circle cx="831.5" cy="143.8" r="18" fill="#fff"/>
<circle cx="831.5" cy="143.8" r="16.2" fill="#161616"/>
<text x="831.5" y="153.10000000000002" text-anchor="middle" font-family="Liberation Sans" font-weight="bold" font-size="25" fill="#fff" stroke="#fff" stroke-width="1" transform="translate(831.5,0) scale(1.15,1) translate(-831.5,0)">A</text>
<path d="M913.2,155.8 L915.4,227.3 L918.0,227.3 L921.6,155.8 Z" fill="#111" stroke="#fff" stroke-width="3.2" stroke-linejoin="round"/>
<path d="M913.2,155.8 L915.4,227.3 L918.0,227.3 L921.6,155.8 Z" fill="#111"/>
<circle cx="917.5" cy="143.8" r="18" fill="#fff"/>
<circle cx="917.5" cy="143.8" r="16.2" fill="#161616"/>
<text x="917.5" y="153.10000000000002" text-anchor="middle" font-family="Liberation Sans" font-weight="bold" font-size="25" fill="#fff" stroke="#fff" stroke-width="1" transform="translate(917.5,0) scale(1.15,1) translate(-917.5,0)">M</text>
<path d="M1013.5,155.7 L1015.3,208.4 L1017.9,208.4 L1021.9,155.9 Z" fill="#111" stroke="#fff" stroke-width="3.2" stroke-linejoin="round"/>
<path d="M1013.5,155.7 L1015.3,208.4 L1017.9,208.4 L1021.9,155.9 Z" fill="#111"/>
<circle cx="1018" cy="143.8" r="18" fill="#fff"/>
<circle cx="1018" cy="143.8" r="16.2" fill="#161616"/>
<text x="1018" y="153.10000000000002" text-anchor="middle" font-family="Liberation Sans" font-weight="bold" font-size="25" fill="#fff" stroke="#fff" stroke-width="1" transform="translate(1018,0) scale(1.15,1) translate(-1018,0)">A</text>
<path d="M1178.5,156.5 L1180.7,265.3 L1183.3,265.3 L1186.9,156.5 Z" fill="#111" stroke="#fff" stroke-width="3.2" stroke-linejoin="round"/>
<path d="M1178.5,156.5 L1180.7,265.3 L1183.3,265.3 L1186.9,156.5 Z" fill="#111"/>
<circle cx="1182.8" cy="144.5" r="18" fill="#fff"/>
<circle cx="1182.8" cy="144.5" r="16.2" fill="#161616"/>
<text x="1182.8" y="153.8" text-anchor="middle" font-family="Liberation Sans" font-weight="bold" font-size="25" fill="#fff" stroke="#fff" stroke-width="1" transform="translate(1182.8,0) scale(1.15,1) translate(-1182.8,0)">E</text>
<path d="M1323.7,156.5 L1326.0,238.5 L1328.6,238.5 L1332.1,156.5 Z" fill="#111" stroke="#fff" stroke-width="3.2" stroke-linejoin="round"/>
<path d="M1323.7,156.5 L1326.0,238.5 L1328.6,238.5 L1332.1,156.5 Z" fill="#111"/>
<circle cx="1328" cy="144.5" r="18" fill="#fff"/>
<circle cx="1328" cy="144.5" r="16.2" fill="#161616"/>
<text x="1328" y="153.8" text-anchor="middle" font-family="Liberation Sans" font-weight="bold" font-size="25" fill="#fff" stroke="#fff" stroke-width="1" transform="translate(1328,0) scale(1.15,1) translate(-1328,0)">A</text>
<path d="M437.0,383.1 L584.8,297.4 L583.2,294.6 L431.7,373.5 Z" fill="#111" stroke="#fff" stroke-width="3.2" stroke-linejoin="round"/>
<path d="M437.0,383.1 L584.8,297.4 L583.2,294.6 L431.7,373.5 Z" fill="#111"/>
<circle cx="423.8" cy="384.1" r="18.8" fill="#fff"/>
<circle cx="423.8" cy="384.1" r="16.2" fill="#161616"/>
<text x="423.8" y="393.40000000000003" text-anchor="middle" font-family="Liberation Sans" font-weight="bold" font-size="25" fill="#fff" stroke="#fff" stroke-width="1" transform="translate(423.8,0) scale(1.15,1) translate(-423.8,0)">L</text>
<path d="M800.9,616.8 L794.8,332.3 L792.2,332.3 L792.5,616.8 Z" fill="#111" stroke="#fff" stroke-width="3.2" stroke-linejoin="round"/>
<path d="M800.9,616.8 L794.8,332.3 L792.2,332.3 L792.5,616.8 Z" fill="#111"/>
<circle cx="796.8" cy="628.8" r="18" fill="#fff"/>
<circle cx="796.8" cy="628.8" r="16.2" fill="#161616"/>
<text x="796.8" y="638.0999999999999" text-anchor="middle" font-family="Liberation Sans" font-weight="bold" font-size="25" fill="#fff" stroke="#fff" stroke-width="1" transform="translate(796.8,0) scale(1.15,1) translate(-796.8,0)">I</text>
<path d="M881.9,616.8 L876.7,392.2 L874.1,392.2 L873.5,616.8 Z" fill="#111" stroke="#fff" stroke-width="3.2" stroke-linejoin="round"/>
<path d="M881.9,616.8 L876.7,392.2 L874.1,392.2 L873.5,616.8 Z" fill="#111"/>
<circle cx="877.8" cy="628.8" r="18" fill="#fff"/>
<circle cx="877.8" cy="628.8" r="16.2" fill="#161616"/>
<text x="877.8" y="638.0999999999999" text-anchor="middle" font-family="Liberation Sans" font-weight="bold" font-size="25" fill="#fff" stroke="#fff" stroke-width="1" transform="translate(877.8,0) scale(1.15,1) translate(-877.8,0)">H</text>
<path d="M980.2,616.8 L976.5,342.9 L973.9,342.9 L971.8,616.8 Z" fill="#111" stroke="#fff" stroke-width="3.2" stroke-linejoin="round"/>
<path d="M980.2,616.8 L976.5,342.9 L973.9,342.9 L971.8,616.8 Z" fill="#111"/>
<circle cx="976" cy="628.8" r="18" fill="#fff"/>
<circle cx="976" cy="628.8" r="16.2" fill="#161616"/>
<text x="976" y="638.0999999999999" text-anchor="middle" font-family="Liberation Sans" font-weight="bold" font-size="25" fill="#fff" stroke="#fff" stroke-width="1" transform="translate(976,0) scale(1.15,1) translate(-976,0)">G</text>
<path d="M1180.2,616.8 L1177.3,460.0 L1174.7,460.0 L1171.8,616.8 Z" fill="#111" stroke="#fff" stroke-width="3.2" stroke-linejoin="round"/>
<path d="M1180.2,616.8 L1177.3,460.0 L1174.7,460.0 L1171.8,616.8 Z" fill="#111"/>
<circle cx="1176" cy="628.8" r="18" fill="#fff"/>
<circle cx="1176" cy="628.8" r="16.2" fill="#161616"/>
<text x="1176" y="638.0999999999999" text-anchor="middle" font-family="Liberation Sans" font-weight="bold" font-size="25" fill="#fff" stroke="#fff" stroke-width="1" transform="translate(1176,0) scale(1.15,1) translate(-1176,0)">F</text></svg>
<div style="position:absolute;left:275.3px;top:666.1px;font-size:20px;line-height:20px;font-weight:bold;transform:scaleX(0.86);transform-origin:0 0;color:#111">3</div>
<div style="position:absolute;left:1425px;top:669.5px;font-size:14.6px;line-height:14.6px;color:#111;transform:scaleX(0.9);transform-origin:0 0;-webkit-text-stroke:0.3px #111">F1A9031</div>
<div style="position:absolute;left:641px;top:720px;width:2px;height:370px;background:#1b1b1b"></div>
<div style="position:absolute;left:1112.5px;top:720px;width:2px;height:370px;background:#1b1b1b"></div>
<div class="c" style="left:194.0px;top:715.2px"><span>A</span></div>
<div class="t" style="left:226.2px;top:721.5px;">AÉRATEURS</div>
<i class="bx" style="left:193.0px;top:749.5px"></i>
<div class="t i" style="left:216.0px;top:745.3px;">Diffuseurs</div>
<div class="t n" style="right:1035.0px;top:745.3px">113</div>
<i class="d" style="left:340.9px;top:762.3px"></i>
<i class="d" style="left:356.7px;top:762.3px"></i>
<i class="d" style="left:372.4px;top:762.3px"></i>
<i class="d" style="left:388.2px;top:762.3px"></i>
<i class="d" style="left:403.9px;top:762.3px"></i>
<i class="d" style="left:419.7px;top:762.3px"></i>
<i class="d" style="left:435.4px;top:762.3px"></i>
<i class="d" style="left:451.2px;top:762.3px"></i>
<i class="d" style="left:466.9px;top:762.3px"></i>
<i class="d" style="left:482.7px;top:762.3px"></i>
<i class="d" style="left:498.4px;top:762.3px"></i>
<i class="d" style="left:514.2px;top:762.3px"></i>
<i class="d" style="left:529.9px;top:762.3px"></i>
<i class="d" style="left:545.7px;top:762.3px"></i>
<div class="c" style="left:194.0px;top:782.7px"><span>B</span></div>
<div class="t" style="left:226.2px;top:789.0px;">LEVIER GAUCHE</div>
<i class="bx" style="left:193.0px;top:818.1px"></i>
<div class="t i" style="left:216.0px;top:813.9px;">Feux extérieurs</div>
<div class="t n" style="right:1035.0px;top:813.9px">105</div>
<i class="d" style="left:388.2px;top:830.9px"></i>
<i class="d" style="left:403.9px;top:830.9px"></i>
<i class="d" style="left:419.7px;top:830.9px"></i>
<i class="d" style="left:435.4px;top:830.9px"></i>
<i class="d" style="left:451.2px;top:830.9px"></i>
<i class="d" style="left:466.9px;top:830.9px"></i>
<i class="d" style="left:482.7px;top:830.9px"></i>
<i class="d" style="left:498.4px;top:830.9px"></i>
<i class="d" style="left:514.2px;top:830.9px"></i>
<i class="d" style="left:529.9px;top:830.9px"></i>
<i class="d" style="left:545.7px;top:830.9px"></i>
<div class="c" style="left:194.0px;top:851.4px"><span>C</span></div>
<div class="t" style="left:226.2px;top:857.7px;">COMBINÉ DE BORD</div>
<i class="bx" style="left:193.0px;top:886.8px"></i>
<div class="t j" style="left:216.0px;top:882.6px;width:346.0px">Combiné et instruments de</div>
<div class="t i" style="left:216.0px;top:911.7px;">bord</div>
<div class="t n" style="right:1035.0px;top:911.7px">148</div>
<i class="d" style="left:277.4px;top:928.7px"></i>
<i class="d" style="left:293.2px;top:928.7px"></i>
<i class="d" style="left:309.0px;top:928.7px"></i>
<i class="d" style="left:324.7px;top:928.7px"></i>
<i class="d" style="left:340.5px;top:928.7px"></i>
<i class="d" style="left:356.3px;top:928.7px"></i>
<i class="d" style="left:372.1px;top:928.7px"></i>
<i class="d" style="left:387.9px;top:928.7px"></i>
<i class="d" style="left:403.7px;top:928.7px"></i>
<i class="d" style="left:419.4px;top:928.7px"></i>
<i class="d" style="left:435.2px;top:928.7px"></i>
<i class="d" style="left:451.0px;top:928.7px"></i>
<i class="d" style="left:466.8px;top:928.7px"></i>
<i class="d" style="left:482.6px;top:928.7px"></i>
<i class="d" style="left:498.4px;top:928.7px"></i>
<i class="d" style="left:514.1px;top:928.7px"></i>
<i class="d" style="left:529.9px;top:928.7px"></i>
<i class="d" style="left:545.7px;top:928.7px"></i>
<i class="bx" style="left:193.0px;top:942.0px"></i>
<div class="t i" style="left:216.0px;top:937.8px;">Témoins</div>
<div class="t n" style="right:1035.0px;top:937.8px">164</div>
<i class="d" style="left:324.4px;top:954.8px"></i>
<i class="d" style="left:340.2px;top:954.8px"></i>
<i class="d" style="left:356.0px;top:954.8px"></i>
<i class="d" style="left:371.8px;top:954.8px"></i>
<i class="d" style="left:387.6px;top:954.8px"></i>
<i class="d" style="left:403.4px;top:954.8px"></i>
<i class="d" style="left:419.2px;top:954.8px"></i>
<i class="d" style="left:435.0px;top:954.8px"></i>
<i class="d" style="left:450.9px;top:954.8px"></i>
<i class="d" style="left:466.7px;top:954.8px"></i>
<i class="d" style="left:482.5px;top:954.8px"></i>
<i class="d" style="left:498.3px;top:954.8px"></i>
<i class="d" style="left:514.1px;top:954.8px"></i>
<i class="d" style="left:529.9px;top:954.8px"></i>
<i class="d" style="left:545.7px;top:954.8px"></i>
<div class="c" style="left:194.0px;top:973.9px"><span>D</span></div>
<div class="t" style="left:226.2px;top:980.2px;">LEVIER DROIT</div>
<i class="bx" style="left:193.0px;top:1009.7px"></i>
<div class="t i" style="left:216.0px;top:1005.5px;">Nettoyage des glaces</div>
<div class="t n" style="right:1035.0px;top:1005.5px">110</div>
<i class="d" style="left:466.4px;top:1022.5px"></i>
<i class="d" style="left:482.3px;top:1022.5px"></i>
<i class="d" style="left:498.1px;top:1022.5px"></i>
<i class="d" style="left:514.0px;top:1022.5px"></i>
<i class="d" style="left:529.8px;top:1022.5px"></i>
<i class="d" style="left:545.7px;top:1022.5px"></i>
<div class="c" style="left:667.6px;top:715.0px"><span>E</span></div>
<div class="t" style="left:699.5px;top:721.3px;">BOÎTE À GANTS/AIRBAG FRONTAL</div>
<div class="t" style="left:699.5px;top:750.8px;">CÔTÉ PASSAGER/S</div>
<i class="bx" style="left:665.5px;top:779.2px"></i>
<div class="t i" style="left:688.0px;top:775.0px;">Équipements intérieurs</div>
<div class="t n" style="right:562.5px;top:775.0px">135</div>
<i class="d" style="left:953.9px;top:792.0px"></i>
<i class="d" style="left:970.0px;top:792.0px"></i>
<i class="d" style="left:986.1px;top:792.0px"></i>
<i class="d" style="left:1002.2px;top:792.0px"></i>
<i class="d" style="left:1018.3px;top:792.0px"></i>
<i class="bx" style="left:665.5px;top:804.5px"></i>
<div class="t i" style="left:688.0px;top:800.3px;">Airbag frontal</div>
<div class="t n" style="right:562.5px;top:800.3px">224</div>
<i class="d" style="left:844.7px;top:817.3px"></i>
<i class="d" style="left:860.5px;top:817.3px"></i>
<i class="d" style="left:876.3px;top:817.3px"></i>
<i class="d" style="left:892.0px;top:817.3px"></i>
<i class="d" style="left:907.8px;top:817.3px"></i>
<i class="d" style="left:923.6px;top:817.3px"></i>
<i class="d" style="left:939.4px;top:817.3px"></i>
<i class="d" style="left:955.2px;top:817.3px"></i>
<i class="d" style="left:971.0px;top:817.3px"></i>
<i class="d" style="left:986.7px;top:817.3px"></i>
<i class="d" style="left:1002.5px;top:817.3px"></i>
<i class="d" style="left:1018.3px;top:817.3px"></i>
<div class="c" style="left:667.6px;top:837.5px"><span>F</span></div>
<div class="t" style="left:699.5px;top:843.8px;">BOÎTE À GANTS</div>
<i class="bx" style="left:665.5px;top:872.7px"></i>
<div class="t i" style="left:688.0px;top:868.5px;">Équipements intérieurs</div>
<div class="t n" style="right:562.5px;top:868.5px">135</div>
<i class="d" style="left:953.9px;top:885.5px"></i>
<i class="d" style="left:970.0px;top:885.5px"></i>
<i class="d" style="left:986.1px;top:885.5px"></i>
<i class="d" style="left:1002.2px;top:885.5px"></i>
<i class="d" style="left:1018.3px;top:885.5px"></i>
<div class="c" style="left:667.6px;top:907.1px"><span>G</span></div>
<div class="t" style="left:699.5px;top:913.4px;">RÉCHAUFFEUR/CLIMATISEUR</div>
<i class="bx" style="left:665.5px;top:942.2px"></i>
<div class="t i" style="left:688.0px;top:938.0px;">Chauffage et ventilation</div>
<div class="t n" style="right:562.5px;top:938.0px">114</div>
<i class="d" style="left:953.9px;top:955.0px"></i>
<i class="d" style="left:970.0px;top:955.0px"></i>
<i class="d" style="left:986.1px;top:955.0px"></i>
<i class="d" style="left:1002.2px;top:955.0px"></i>
<i class="d" style="left:1018.3px;top:955.0px"></i>
<i class="bx" style="left:665.5px;top:966.9px"></i>
<div class="t i" style="left:688.0px;top:962.7px;">Climatiseur manuel</div>
<div class="t n" style="right:562.5px;top:962.7px">115</div>
<i class="d" style="left:907.0px;top:979.7px"></i>
<i class="d" style="left:922.9px;top:979.7px"></i>
<i class="d" style="left:938.8px;top:979.7px"></i>
<i class="d" style="left:954.7px;top:979.7px"></i>
<i class="d" style="left:970.6px;top:979.7px"></i>
<i class="d" style="left:986.5px;top:979.7px"></i>
<i class="d" style="left:1002.4px;top:979.7px"></i>
<i class="d" style="left:1018.3px;top:979.7px"></i>
<i class="bx" style="left:665.5px;top:991.6px"></i>
<div class="t i" style="left:688.0px;top:987.4px;">Climatiseur automatique</div>
<div class="t n" style="right:562.5px;top:987.4px">119</div>
<i class="d" style="left:953.9px;top:1004.4px"></i>
<i class="d" style="left:970.0px;top:1004.4px"></i>
<i class="d" style="left:986.1px;top:1004.4px"></i>
<i class="d" style="left:1002.2px;top:1004.4px"></i>
<i class="d" style="left:1018.3px;top:1004.4px"></i>
<div class="c" style="left:667.6px;top:1024.6px"><span>H</span></div>
<div class="t j" style="left:699.5px;top:1030.9px;width:395.8px">COMMANDES SUR LE TABLEAU</div>
<div class="t" style="left:699.5px;top:1061.4px;">DE BORD</div>
<i class="bx" style="left:1137.5px;top:721.7px"></i>
<div class="t i" style="left:1160.0px;top:717.5px;">Capteurs de stationnement</div>
<div class="t n" style="right:90.3px;top:717.5px">261</div>
<i class="d" style="left:1474.4px;top:734.5px"></i>
<i class="d" style="left:1490.4px;top:734.5px"></i>
<i class="bx" style="left:1137.5px;top:746.4px"></i>
<div class="t i" style="left:1160.0px;top:742.2px;">Système Lane Control</div>
<div class="t n" style="right:90.3px;top:742.2px">205</div>
<i class="d" style="left:1410.4px;top:759.2px"></i>
<i class="d" style="left:1426.4px;top:759.2px"></i>
<i class="d" style="left:1442.4px;top:759.2px"></i>
<i class="d" style="left:1458.4px;top:759.2px"></i>
<i class="d" style="left:1474.4px;top:759.2px"></i>
<i class="d" style="left:1490.4px;top:759.2px"></i>
<i class="bx" style="left:1137.5px;top:771.1px"></i>
<div class="t i" style="left:1160.0px;top:766.9px;">Feux de détresse</div>
<div class="t n" style="right:90.3px;top:766.9px">342</div>
<i class="d" style="left:1362.4px;top:783.9px"></i>
<i class="d" style="left:1378.4px;top:783.9px"></i>
<i class="d" style="left:1394.4px;top:783.9px"></i>
<i class="d" style="left:1410.4px;top:783.9px"></i>
<i class="d" style="left:1426.4px;top:783.9px"></i>
<i class="d" style="left:1442.4px;top:783.9px"></i>
<i class="d" style="left:1458.4px;top:783.9px"></i>
<i class="d" style="left:1474.4px;top:783.9px"></i>
<i class="d" style="left:1490.4px;top:783.9px"></i>
<i class="bx" style="left:1137.5px;top:796.7px"></i>
<div class="t i" style="left:1160.0px;top:792.5px;">Verrouillage des portes</div>
<div class="t n" style="right:90.3px;top:792.5px">34</div>
<i class="d" style="left:1426.4px;top:809.5px"></i>
<i class="d" style="left:1442.4px;top:809.5px"></i>
<i class="d" style="left:1458.4px;top:809.5px"></i>
<i class="d" style="left:1474.4px;top:809.5px"></i>
<i class="d" style="left:1490.4px;top:809.5px"></i>
<i class="d" style="left:1506.4px;top:809.5px"></i>
<i class="bx" style="left:1137.5px;top:821.9px"></i>
<div class="t i" style="left:1160.0px;top:817.7px;">Traction Plus</div>
<div class="t n" style="right:90.3px;top:817.7px">194</div>
<i class="d" style="left:1314.4px;top:834.7px"></i>
<i class="d" style="left:1330.4px;top:834.7px"></i>
<i class="d" style="left:1346.4px;top:834.7px"></i>
<i class="d" style="left:1362.4px;top:834.7px"></i>
<i class="d" style="left:1378.4px;top:834.7px"></i>
<i class="d" style="left:1394.4px;top:834.7px"></i>
<i class="d" style="left:1410.4px;top:834.7px"></i>
<i class="d" style="left:1426.4px;top:834.7px"></i>
<i class="d" style="left:1442.4px;top:834.7px"></i>
<i class="d" style="left:1458.4px;top:834.7px"></i>
<i class="d" style="left:1474.4px;top:834.7px"></i>
<i class="d" style="left:1490.4px;top:834.7px"></i>
<i class="bx" style="left:1137.5px;top:847.2px"></i>
<div class="t i" style="left:1160.0px;top:843.0px;">Hill Descent Control</div>
<div class="t n" style="right:90.3px;top:843.0px">190</div>
<i class="d" style="left:1378.4px;top:860.0px"></i>
<i class="d" style="left:1394.4px;top:860.0px"></i>
<i class="d" style="left:1410.4px;top:860.0px"></i>
<i class="d" style="left:1426.4px;top:860.0px"></i>
<i class="d" style="left:1442.4px;top:860.0px"></i>
<i class="d" style="left:1458.4px;top:860.0px"></i>
<i class="d" style="left:1474.4px;top:860.0px"></i>
<i class="d" style="left:1490.4px;top:860.0px"></i>
<div class="c" style="left:1139.0px;top:880.7px"><span>I</span></div>
<div class="t" style="left:1171.0px;top:887.0px;">LEVIER DE VITESSES/COMMANDE</div>
<div class="t" style="left:1171.0px;top:917.2px;">ROTATIVE</div>
<i class="bx" style="left:1137.5px;top:945.5px"></i>
<div class="t j" style="left:1160.0px;top:941.3px;width:396.8px">Fonctionnement boîte de vitesses</div>
<div class="t i" style="left:1160.0px;top:970.3px;">manuelle</div>
<div class="t n" style="right:90.3px;top:970.3px">245</div>
<i class="d" style="left:1268.4px;top:987.3px"></i>
<i class="d" style="left:1284.3px;top:987.3px"></i>
<i class="d" style="left:1300.1px;top:987.3px"></i>
<i class="d" style="left:1316.0px;top:987.3px"></i>
<i class="d" style="left:1331.8px;top:987.3px"></i>
<i class="d" style="left:1347.7px;top:987.3px"></i>
<i class="d" style="left:1363.5px;top:987.3px"></i>
<i class="d" style="left:1379.4px;top:987.3px"></i>
<i class="d" style="left:1395.3px;top:987.3px"></i>
<i class="d" style="left:1411.1px;top:987.3px"></i>
<i class="d" style="left:1427.0px;top:987.3px"></i>
<i class="d" style="left:1442.8px;top:987.3px"></i>
<i class="d" style="left:1458.7px;top:987.3px"></i>
<i class="d" style="left:1474.5px;top:987.3px"></i>
<i class="d" style="left:1490.4px;top:987.3px"></i>
<i class="bx" style="left:1137.5px;top:1000.6px"></i>
<div class="t j" style="left:1160.0px;top:996.4px;width:396.8px">Fonctionnement boîte de vitesses</div>
<div class="t i" style="left:1160.0px;top:1025.5px;">automatique</div>
<div class="t n" style="right:90.3px;top:1025.5px">246</div>
<i class="d" style="left:1298.4px;top:1042.5px"></i>
<i class="d" style="left:1314.4px;top:1042.5px"></i>
<i class="d" style="left:1330.4px;top:1042.5px"></i>
<i class="d" style="left:1346.4px;top:1042.5px"></i>
<i class="d" style="left:1362.4px;top:1042.5px"></i>
<i class="d" style="left:1378.4px;top:1042.5px"></i>
<i class="d" style="left:1394.4px;top:1042.5px"></i>
<i class="d" style="left:1410.4px;top:1042.5px"></i>
<i class="d" style="left:1426.4px;top:1042.5px"></i>
<i class="d" style="left:1442.4px;top:1042.5px"></i>
<i class="d" style="left:1458.4px;top:1042.5px"></i>
<i class="d" style="left:1474.4px;top:1042.5px"></i>
<i class="d" style="left:1490.4px;top:1042.5px"></i>
<div style="position:absolute;left:89px;top:1120.2px;font-size:28.7px;line-height:28.7px;font-weight:bold;-webkit-text-stroke:0.6px #1b1b1b;">10</div>
</body></html>
